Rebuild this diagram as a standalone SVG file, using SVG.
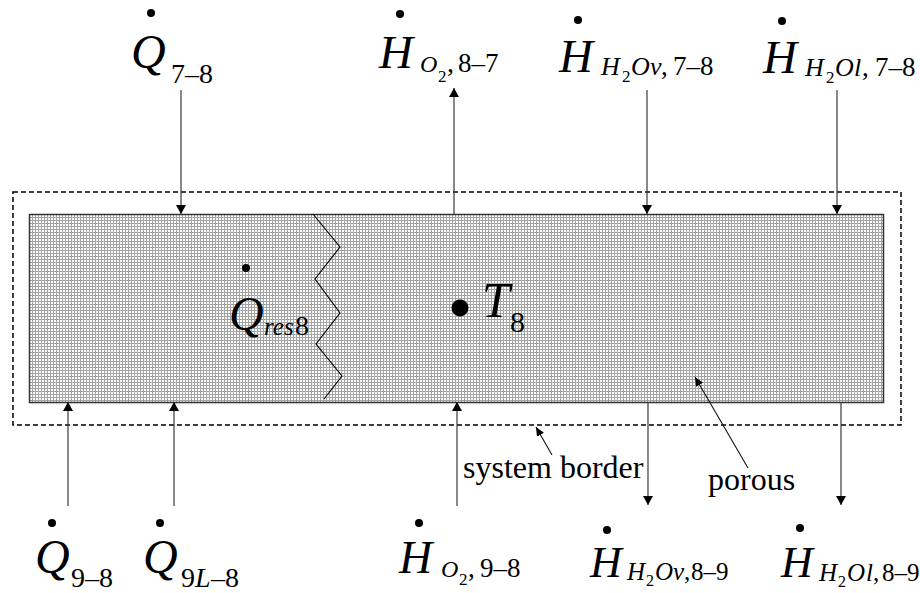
<svg xmlns="http://www.w3.org/2000/svg" width="920" height="593" viewBox="0 0 920 593">
<style>
.i{font-style:italic}
.arr{stroke:#3a3a3a;stroke-width:1.2;fill:none;marker-end:url(#ah)}
.ptr{stroke:#111;stroke-width:1.1;fill:none;marker-end:url(#ahs)}
</style>
<defs>
<pattern id="grid" patternUnits="userSpaceOnUse" x="29" y="214" width="3" height="3">
<rect width="3" height="3" fill="#fff"/>
<path d="M0.5,0V3M0,0.5H3" stroke="#a4a4a4" stroke-width="1"/>
</pattern>
<marker id="ah" markerUnits="userSpaceOnUse" markerWidth="10" markerHeight="10" refX="9" refY="5" orient="auto">
<path d="M0,0L9,5L0,10z" fill="#000"/>
</marker>
<marker id="ahs" markerUnits="userSpaceOnUse" markerWidth="9" markerHeight="8" refX="9" refY="4" orient="auto">
<path d="M0,0L9,4L0,8z" fill="#000"/>
</marker>
</defs>
<rect width="920" height="593" fill="#fff"/>
<g id="system-border">
<rect x="13" y="192" width="888" height="233" fill="none" stroke="#000" stroke-width="1.5" stroke-dasharray="5 3"/>
</g>
<g id="porous-body">
<rect x="29.5" y="214.5" width="854" height="188" fill="url(#grid)" stroke="#333" stroke-width="1.5"/>
<polyline points="313,214 340,247 315,279 340,313 316,344 342,376 324,399" fill="none" stroke="#000" stroke-width="1.1"/>
</g>
<g id="connectors">
<line class="arr" x1="181" y1="90" x2="181" y2="214"/>
<line class="arr" x1="454" y1="214" x2="454" y2="88"/>
<line class="arr" x1="647" y1="90" x2="647" y2="214"/>
<line class="arr" x1="837" y1="90" x2="837" y2="214"/>
<line class="arr" x1="68" y1="506" x2="68" y2="402"/>
<line class="arr" x1="174" y1="506" x2="174" y2="402"/>
<line class="arr" x1="457" y1="506" x2="457" y2="402"/>
<line class="arr" x1="648" y1="402" x2="648" y2="505"/>
<line class="arr" x1="841" y1="402" x2="841" y2="505"/>
<line class="ptr" x1="552" y1="455" x2="536" y2="427"/>
<line class="ptr" x1="748" y1="468" x2="695" y2="377"/>
</g>
<g font-family="Liberation Serif, Tinos, Times New Roman, DejaVu Serif, serif" fill="#000">
<g id="Q78">
<circle cx="151" cy="13" r="4"/>
<text><tspan x="131" y="68" class="i" font-size="48">Q</tspan><tspan x="171" y="83" font-size="28">7–8</tspan></text>
</g>
<g id="HO2_87">
<circle cx="400" cy="14" r="4"/>
<text><tspan x="379" y="68" class="i" font-size="47">H</tspan><tspan x="420" y="72" class="i" font-size="24">O</tspan><tspan x="438" y="82" font-size="17">2</tspan><tspan x="447" y="72" font-size="28">,</tspan><tspan x="458" y="72" font-size="27">8–7</tspan></text>
</g>
<g id="H2Ov_78">
<circle cx="578" cy="20" r="4"/>
<text><tspan x="559" y="72" class="i" font-size="47">H</tspan><tspan x="601" y="75" class="i" font-size="26">H</tspan><tspan x="622" y="82" font-size="17">2</tspan><tspan x="631" y="75" class="i" font-size="26">O</tspan><tspan x="650" y="75" class="i" font-size="26">v</tspan><tspan x="661" y="75" font-size="27">,</tspan><tspan x="673" y="75" font-size="27">7–8</tspan></text>
</g>
<g id="H2Ol_78">
<circle cx="782" cy="21" r="4"/>
<text><tspan x="763" y="73" class="i" font-size="47">H</tspan><tspan x="805" y="76" class="i" font-size="26">H</tspan><tspan x="826" y="83" font-size="17">2</tspan><tspan x="835" y="76" class="i" font-size="26">O</tspan><tspan x="854" y="76" class="i" font-size="26">l</tspan><tspan x="862" y="76" font-size="27">,</tspan><tspan x="875" y="76" font-size="27">7–8</tspan></text>
</g>
<g id="Qres8">
<circle cx="246" cy="268" r="4"/>
<text><tspan x="229" y="330" class="i" font-size="48">Q</tspan><tspan x="264" y="335" class="i" font-size="25">res</tspan><tspan x="295" y="335" font-size="28">8</tspan></text>
</g>
<g id="T8">
<circle cx="460" cy="308" r="8.5"/>
<text><tspan x="482" y="317" class="i" font-size="50">T</tspan><tspan x="510" y="332" font-size="30">8</tspan></text>
</g>
<g id="Q98">
<circle cx="52" cy="523" r="4"/>
<text><tspan x="35" y="573" class="i" font-size="48">Q</tspan><tspan x="71" y="587" font-size="28">9–8</tspan></text>
</g>
<g id="Q9L8">
<circle cx="160" cy="523" r="4"/>
<text><tspan x="143" y="573" class="i" font-size="48">Q</tspan><tspan x="181" y="587" font-size="28">9</tspan><tspan x="195" y="587" class="i" font-size="28">L</tspan><tspan x="211" y="587" font-size="28">–8</tspan></text>
</g>
<g id="HO2_98">
<circle cx="419" cy="523" r="4"/>
<text><tspan x="399" y="573" class="i" font-size="46">H</tspan><tspan x="441" y="577" class="i" font-size="24">O</tspan><tspan x="459" y="585" font-size="17">2</tspan><tspan x="468" y="577" font-size="27">,</tspan><tspan x="480" y="577" font-size="27">9–8</tspan></text>
</g>
<g id="H2Ov_89">
<circle cx="607" cy="530" r="4"/>
<text><tspan x="590" y="577" class="i" font-size="44">H</tspan><tspan x="627" y="580" class="i" font-size="25">H</tspan><tspan x="646" y="586" font-size="16">2</tspan><tspan x="655" y="580" class="i" font-size="25">O</tspan><tspan x="673" y="580" class="i" font-size="25">v</tspan><tspan x="684" y="580" font-size="25">,</tspan><tspan x="691" y="580" font-size="25">8–9</tspan></text>
</g>
<g id="H2Ol_89">
<circle cx="800" cy="528" r="4"/>
<text><tspan x="781" y="577" class="i" font-size="44">H</tspan><tspan x="819" y="581" class="i" font-size="25">H</tspan><tspan x="838" y="587" font-size="16">2</tspan><tspan x="847" y="581" class="i" font-size="25">O</tspan><tspan x="866" y="581" class="i" font-size="25">l</tspan><tspan x="873" y="581" font-size="25">,</tspan><tspan x="882" y="581" font-size="25">8–9</tspan></text>
</g>
<g id="label-system-border">
<text x="463" y="478" font-size="32">system border</text>
</g>
<g id="label-porous">
<text x="708" y="490" font-size="32">porous</text>
</g>
</g>
</svg>
